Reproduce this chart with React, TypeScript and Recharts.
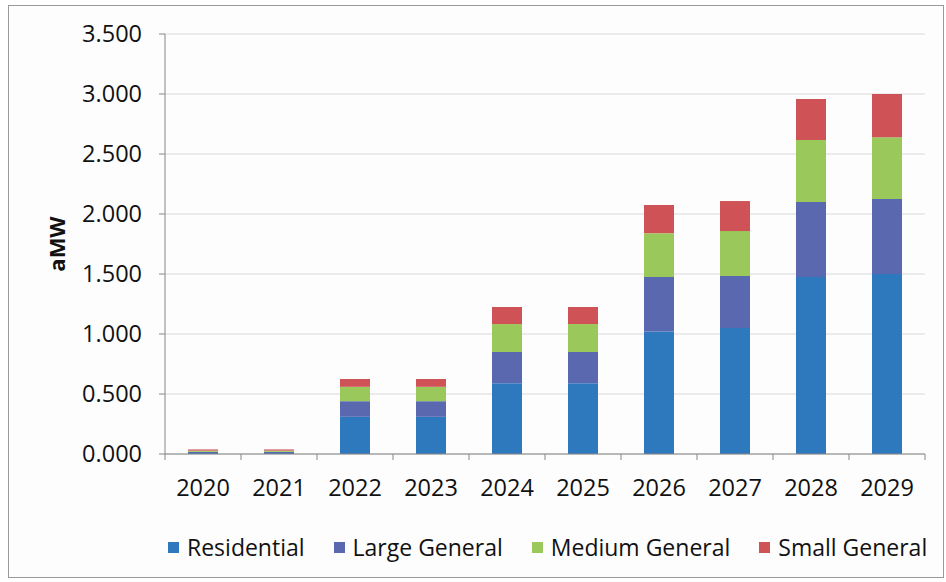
import React from 'react';
import { BarChart, Bar, XAxis, YAxis, CartesianGrid, Legend } from 'recharts';

const years = ['2020', '2021', '2022', '2023', '2024', '2025', '2026', '2027', '2028', '2029'];
const residential = [0.008, 0.008, 0.31, 0.31, 0.59, 0.59, 1.02, 1.05, 1.475, 1.5];
const largeGeneral = [0.01, 0.01, 0.13, 0.13, 0.26, 0.26, 0.455, 0.433, 0.625, 0.625];
const mediumGeneral = [0.01, 0.01, 0.12, 0.12, 0.233, 0.233, 0.365, 0.375, 0.517, 0.515];
const smallGeneral = [0.01, 0.01, 0.065, 0.065, 0.142, 0.142, 0.235, 0.25, 0.341, 0.36];
const yTicks = [0, 0.5, 1, 1.5, 2, 2.5, 3, 3.5];

const seriesNames = ['Residential', 'Large General', 'Medium General', 'Small General'];
const colors = ['#2E79BD', '#5A68B0', '#9BC85B', '#CF5257'];

const data = years.map((y, i) => ({
  year: y,
  r: residential[i],
  l: largeGeneral[i],
  m: mediumGeneral[i],
  s: smallGeneral[i],
}));

const FONT = '"Open Sans", "Noto Sans", sans-serif';
const BAND = 76;
const TXT = '#111';

const XTick = (props: any) => {
  const { x, y, payload, index } = props;
  return (
    <g>
      <line x1={x - BAND / 2} x2={x - BAND / 2} y1={y - 8} y2={y - 2} stroke="#868686" strokeWidth={1} />
      {index === years.length - 1 && (
        <line x1={x + BAND / 2} x2={x + BAND / 2} y1={y - 8} y2={y - 2} stroke="#868686" strokeWidth={1} />
      )}
      <text x={x} y={y + 34} textAnchor="middle" fill={TXT} fontSize={23.5} fontWeight={500} fontFamily={FONT}>
        {payload.value}
      </text>
    </g>
  );
};

const LegendContent = () => (
  <div style={{ height: 48, position: 'relative' }}>
    <div
      style={{
        position: 'absolute',
        left: 168,
        top: 7,
        display: 'flex',
        alignItems: 'center',
        fontFamily: FONT,
        fontSize: 23,
        fontWeight: 500,
        color: TXT,
        whiteSpace: 'nowrap',
      }}
    >
      {seriesNames.map((n, i) => (
        <div key={n} style={{ display: 'flex', alignItems: 'center', marginRight: i < 3 ? 29 : 0 }}>
          <div style={{ width: 11, height: 11, background: colors[i], marginRight: 8 }} />
          <span>{n}</span>
        </div>
      ))}
    </div>
  </div>
);

export default function App() {
  return (
    <div style={{ position: 'absolute', left: 0, top: 0, width: 946, height: 582, background: '#fff' }}>
      <div
        style={{
          position: 'absolute',
          left: 8,
          top: 5,
          width: 934,
          height: 571,
          border: '1px solid #9a9a9a',
          background: '#fdfdfd',
        }}
      />
      <div style={{ position: 'absolute', left: 0, top: 0 }}>
        <BarChart
          width={946}
          height={582}
          data={data}
          margin={{ top: 34, right: 21, bottom: 10, left: 0 }}
          barSize={30}
        >
          <CartesianGrid vertical={false} stroke="#d9d9d9" strokeWidth={1} />
          <YAxis
            width={165}
            domain={[0, 3.5]}
            ticks={yTicks}
            interval={0}
            tickFormatter={(v: number) => v.toFixed(3)}
            tick={{ fill: TXT, fontSize: 23.5, fontWeight: 500, fontFamily: FONT }}
            tickSize={6}
            tickMargin={17}
            axisLine={{ stroke: '#868686' }}
            tickLine={{ stroke: '#868686' }}
            label={{
              value: 'aMW',
              angle: -90,
              position: 'insideLeft',
              offset: 57,
              style: { fontFamily: FONT, fontSize: 22, fontWeight: 'bold', fill: TXT, textAnchor: 'middle' },
            }}
          />
          <XAxis
            dataKey="year"
            height={70}
            axisLine={{ stroke: '#868686' }}
            tickLine={false}
            tick={<XTick />}
            interval={0}
          />
          <Legend verticalAlign="bottom" content={<LegendContent />} />
          <Bar dataKey="r" stackId="a" fill={colors[0]} name={seriesNames[0]} isAnimationActive={false} />
          <Bar dataKey="l" stackId="a" fill={colors[1]} name={seriesNames[1]} isAnimationActive={false} />
          <Bar dataKey="m" stackId="a" fill={colors[2]} name={seriesNames[2]} isAnimationActive={false} />
          <Bar dataKey="s" stackId="a" fill={colors[3]} name={seriesNames[3]} isAnimationActive={false} />
        </BarChart>
      </div>
    </div>
  );
}
